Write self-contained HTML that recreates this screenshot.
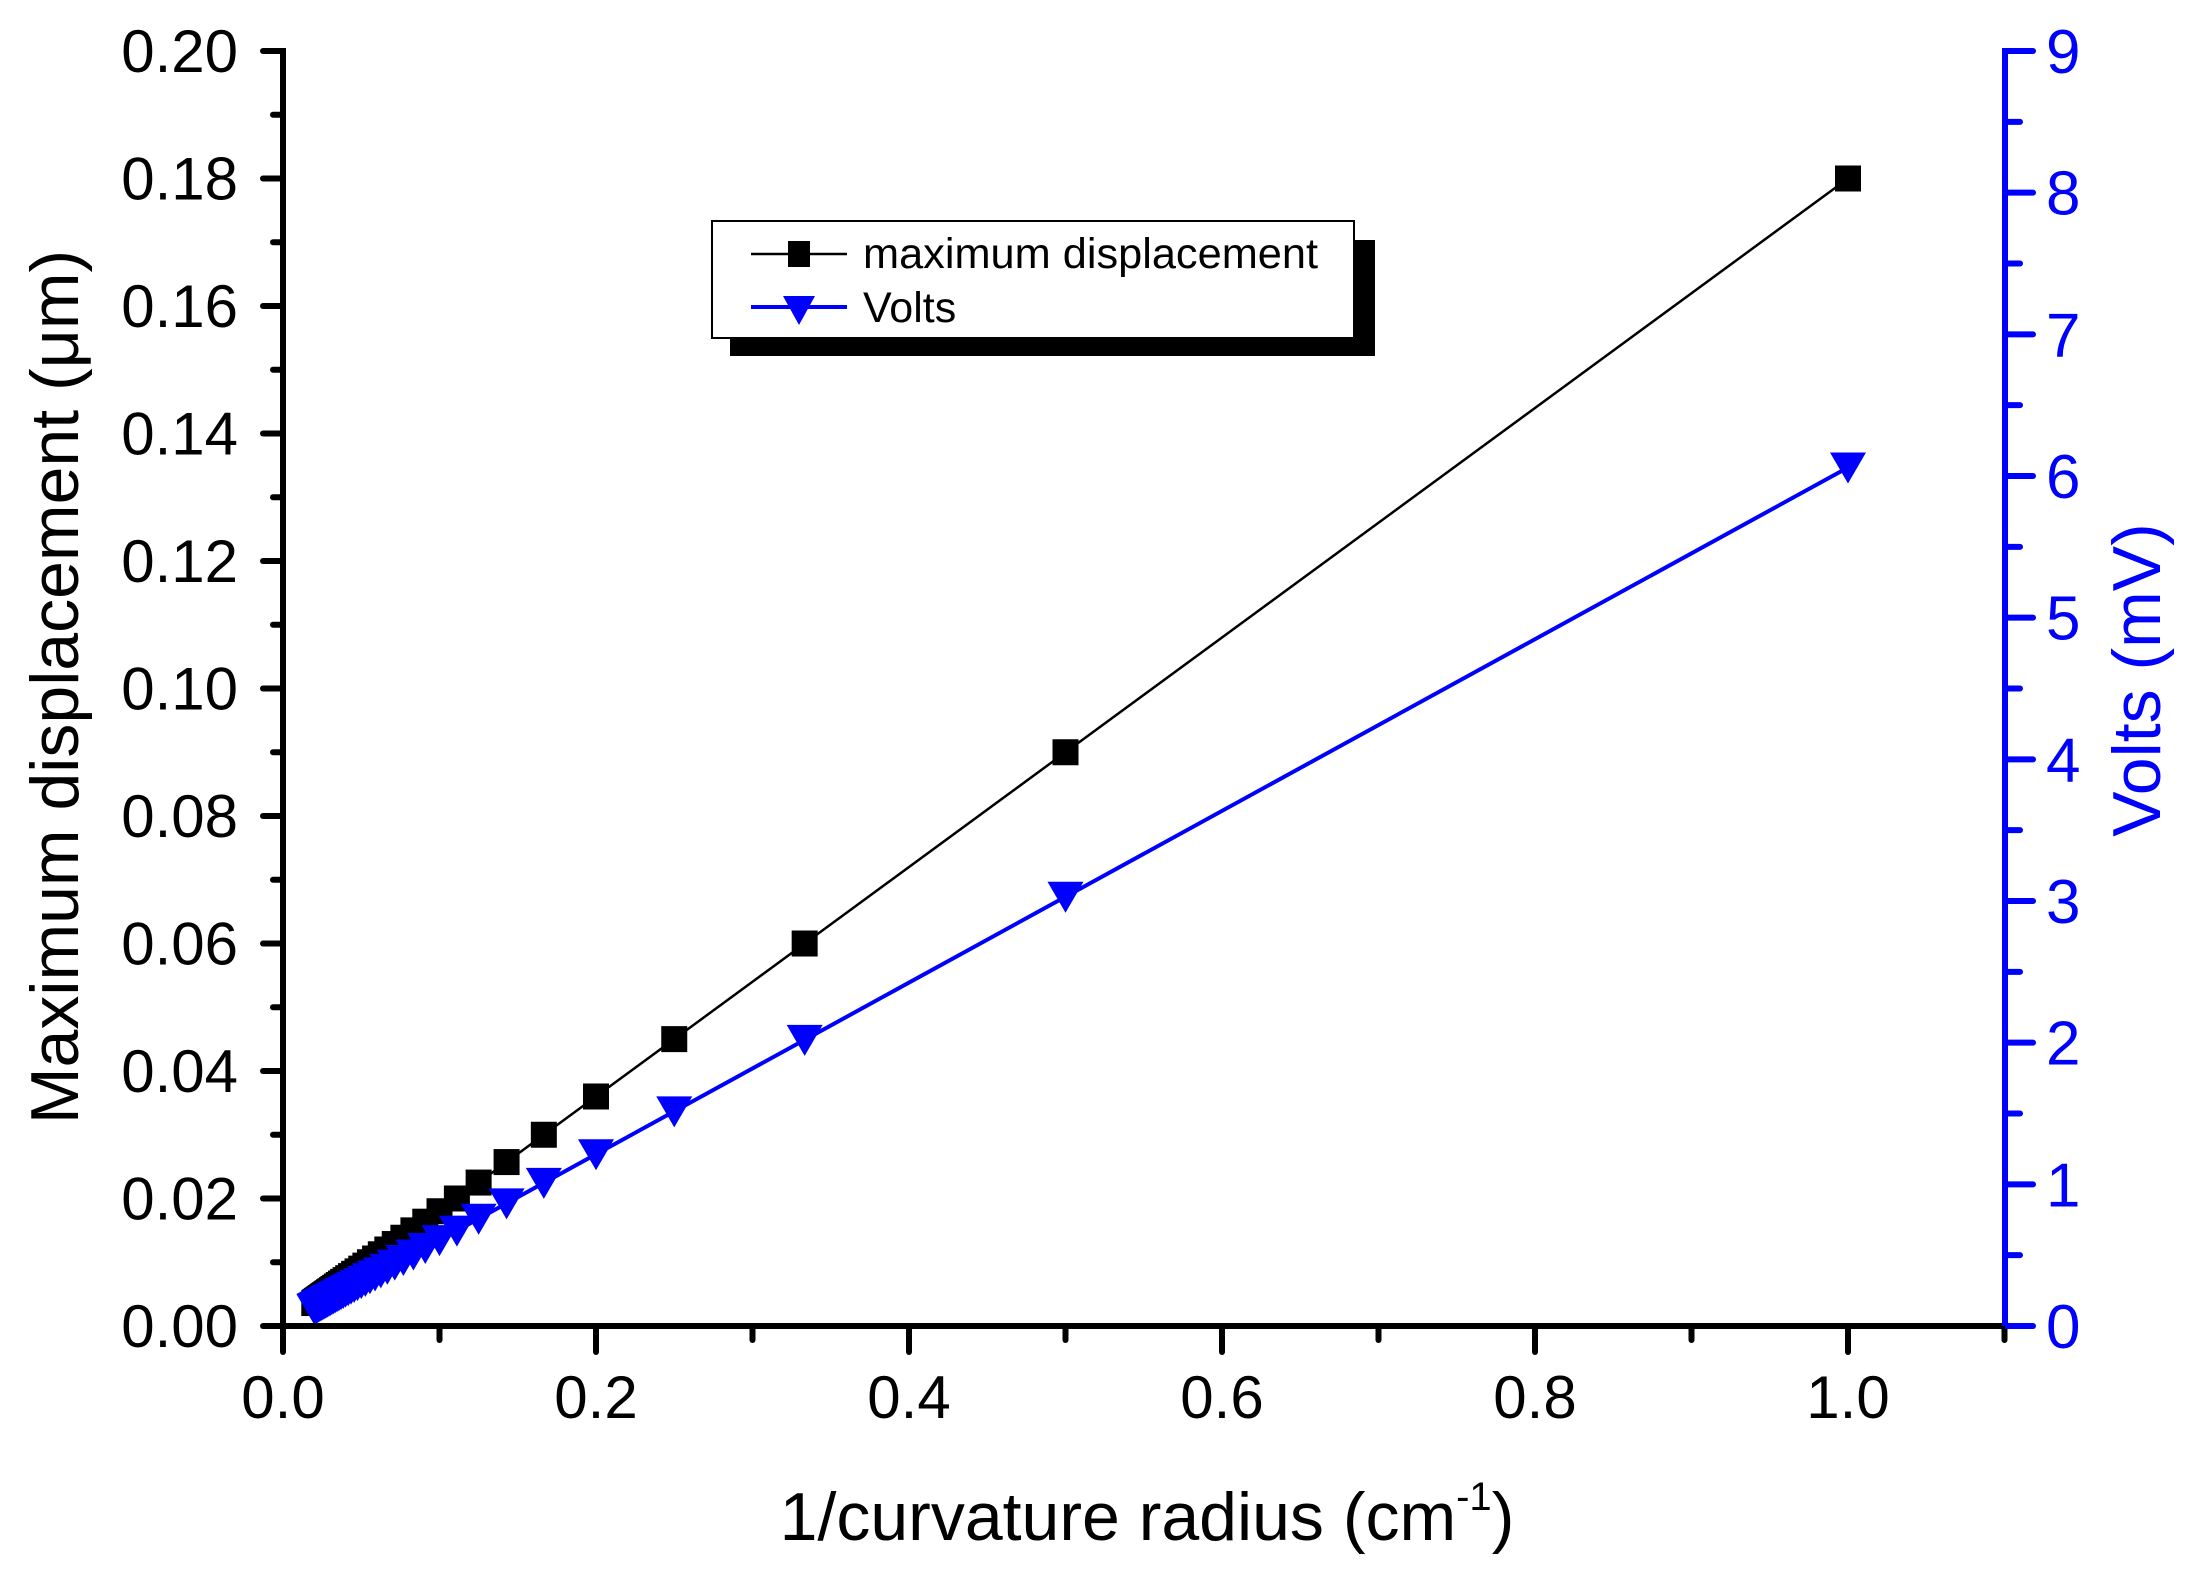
<!DOCTYPE html>
<html><head><meta charset="utf-8"><style>
html,body{margin:0;padding:0;background:#fff;}
svg{display:block;}
text{font-family:"Liberation Sans",Arial,sans-serif;}
</style></head><body>
<svg id="s" width="2189" height="1574" viewBox="0 0 2189 1574" xmlns="http://www.w3.org/2000/svg">
<g id="ticks"></g>
<g id="data"></g>
<!-- axes -->
<line x1="283" y1="48" x2="283" y2="1329" stroke="#000" stroke-width="6"/>
<line x1="280" y1="1326" x2="2005" y2="1326" stroke="#000" stroke-width="6"/>
<line x1="2005" y1="48" x2="2005" y2="1326" stroke="#00f" stroke-width="6"/>
<!-- labels -->
<text x="1147" y="1540" font-size="68" text-anchor="middle">1/curvature radius (cm<tspan font-size="40" dy="-30">-1</tspan><tspan dy="30">)</tspan></text>
<text transform="translate(78,687) rotate(-90)" font-size="68" text-anchor="middle">Maximum displacement (μm)</text>
<text transform="translate(2160,680) rotate(-90)" font-size="68" text-anchor="middle" fill="#00f">Volts (mV)</text>
<!-- legend -->
<rect x="730" y="240" width="645" height="116" fill="#000"/>
<rect x="712" y="221" width="642" height="117" fill="#fff" stroke="#000" stroke-width="2"/>
<line x1="751" y1="254" x2="847" y2="254" stroke="#000" stroke-width="2.5"/>
<rect x="788" y="241" width="22" height="26" fill="#000"/>
<text x="863" y="268" font-size="43" textLength="455" lengthAdjust="spacingAndGlyphs">maximum displacement</text>
<line x1="751" y1="307" x2="847" y2="307" stroke="#00f" stroke-width="4"/>
<polygon points="783,296 815,296 799,325" fill="#00f"/>
<text x="863" y="322" font-size="43">Volts</text>
</svg>
<script>
(function(){
var NS="http://www.w3.org/2000/svg";
var t=document.getElementById("ticks"),d=document.getElementById("data");
function el(p,n,a,txt){var e=document.createElementNS(NS,n);for(var k in a)e.setAttribute(k,a[k]);if(txt!=null)e.textContent=txt;p.appendChild(e);return e;}
var X=function(x){return 283+x*1565;};
var Y=function(y){return 1326-y*6375;};
var V=function(v){return 1326-v*1275/9;};
for(var i=0;i<=20;i++){var y=1326-i*63.75;var maj=i%2==0;
 el(t,"line",{x1:maj?263:273,y1:y,x2:283,y2:y,stroke:"#000","stroke-width":6,"stroke-linecap":"round"});
 if(maj)el(t,"text",{x:238,y:y+21,"font-size":60,"text-anchor":"end"},(i*0.01).toFixed(2));}
for(var i=0;i<=11;i++){var x=283+i*156.5;var maj=i%2==0;
 el(t,"line",{x1:x,y1:1326,x2:x,y2:maj?1352:1340,stroke:"#000","stroke-width":6,"stroke-linecap":"round"});
 if(maj)el(t,"text",{x:x,y:1418,"font-size":60,"text-anchor":"middle"},(i*0.1).toFixed(1));}
for(var i=0;i<=18;i++){var y=1326-i*1275/18;var maj=i%2==0;
 el(t,"line",{x1:2005,y1:y,x2:maj?2033:2020,y2:y,stroke:"#00f","stroke-width":6,"stroke-linecap":"round"});
 if(maj)el(t,"text",{x:2046,y:y+22,"font-size":62,fill:"#00f"},String(i/2));}
var xs=[];for(var r=1;r<=50;r++)xs.push(1/r);
var p1="",p2="";
xs.forEach(function(x,k){p1+=(k?"L":"M")+X(x)+","+Y(0.18*x);p2+=(k?"L":"M")+X(x)+","+V(6.06*x);});
el(d,"path",{d:p1,fill:"none",stroke:"#000","stroke-width":2.5});
el(d,"path",{d:p2,fill:"none",stroke:"#00f","stroke-width":4});
xs.forEach(function(x){var cx=X(x),cy=Y(0.18*x);el(d,"rect",{x:cx-13,y:cy-13,width:26,height:26,fill:"#000"});});
xs.forEach(function(x){var cx=X(x),cy=V(6.06*x);el(d,"polygon",{points:(cx-18)+","+(cy-15)+" "+(cx+18)+","+(cy-15)+" "+cx+","+(cy+16),fill:"#00f"});});
})();
</script>
</body></html>
